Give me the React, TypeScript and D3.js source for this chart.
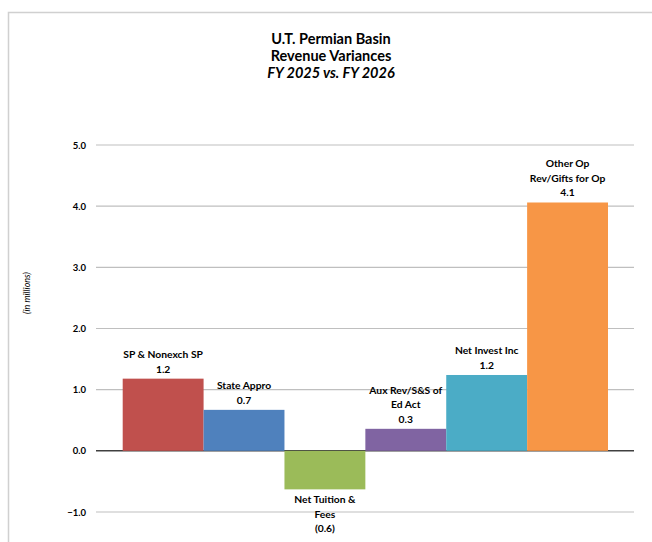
import * as d3 from 'd3'

const categories = ['SP & Nonexch SP', 'State Appro', 'Net Tuition & Fees', 'Aux Rev/S&S of Ed Act', 'Net Invest Inc', 'Other Op Rev/Gifts for Op']
const values = [1.18, 0.67, -0.63, 0.36, 1.24, 4.06]
const valueLabels = ['1.2', '0.7', '(0.6)', '0.3', '1.2', '4.1']
const labelLines = [
  ['SP & Nonexch SP'],
  ['State Appro'],
  ['Net Tuition &', 'Fees'],
  ['Aux Rev/S&S of', 'Ed Act'],
  ['Net Invest Inc'],
  ['Other Op', 'Rev/Gifts for Op'],
]
const colors = ['#c0504d', '#4f81bd', '#9bbb59', '#8064a2', '#4bacc6', '#f79646']
const yTicks = [-1, 0, 1, 2, 3, 4, 5]
const titleLines = ['U.T. Permian Basin', 'Revenue Variances']
const subtitle = 'FY 2025 vs. FY 2026'

export default function App() {
  const width = 652
  const height = 542
  const plot = { left: 96, right: 634, top: 145, bottom: 512 }
  const y = d3.scaleLinear().domain([-1, 5]).range([plot.bottom, plot.top])
  const x = d3.scaleBand<number>()
    .domain(d3.range(categories.length))
    .range([plot.left + 26.7, plot.right - 26])
    .padding(0)
  const font = 'Lato, "Open Sans", sans-serif'
  const lh = 14.5

  return (
    <svg width={width} height={height} style={{ position: 'absolute', left: 0, top: 0, background: '#fff' }} fontFamily={font}>
      <rect x={8.5} y={12.5} width={width + 20} height={height + 20} fill="#fff" stroke="#d0d0d0" strokeWidth={1.5} />
      {titleLines.map((t, i) => (
        <text key={t} x={331} y={44 + i * 17} textAnchor="middle" fontSize={14.5} fontWeight="bold" fill="#000">{t}</text>
      ))}
      <text x={331} y={78} textAnchor="middle" fontSize={14.5} fontWeight="bold" fontStyle="italic" fill="#000">{subtitle}</text>

      {yTicks.map(t => (
        <g key={t}>
          <line x1={plot.left} x2={plot.right} y1={y(t)} y2={y(t)} stroke={t === 0 ? '#404040' : '#bfbfbf'} strokeWidth={t === 0 ? 1.5 : 1.2} />
          <text x={86} y={y(t) + 3.5} textAnchor="end" fontSize={9.5} fontWeight="bold" fill="#000">{d3.format('.1f')(t)}</text>
        </g>
      ))}
      <text transform={`translate(30,${293}) rotate(-90)`} textAnchor="middle" fontSize={9} fontStyle="italic" fill="#000">(in millions)</text>

      {values.map((v, i) => (
        <rect key={categories[i]} x={x(i)} width={x.bandwidth()} y={y(Math.max(0, v))} height={Math.abs(y(v) - y(0))} fill={colors[i]} />
      ))}
      {values.map((v, i) => {
        const lines = [...labelLines[i], valueLabels[i]]
        const cx = (x(i) ?? 0) + x.bandwidth() / 2
        const startY = v >= 0
          ? y(v) - 6 - (lines.length - 1) * lh
          : y(v) + 14
        return (
          <text key={'l' + i} x={cx} textAnchor="middle" fontSize={10.3} fontWeight="bold" fill="#000">
            {lines.map((l, j) => (
              <tspan key={j} x={cx} y={startY + j * lh}>{l}</tspan>
            ))}
          </text>
        )
      })}
    </svg>
  )
}
